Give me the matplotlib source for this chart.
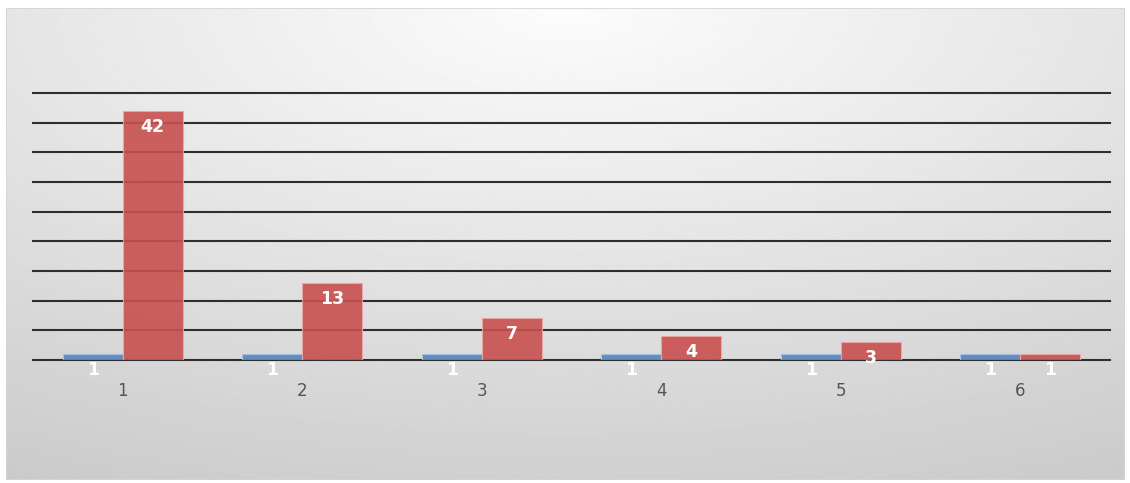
import numpy as np
import matplotlib
matplotlib.use('Agg')
import matplotlib.pyplot as plt
from matplotlib.patches import Rectangle

categories = ['1', '2', '3', '4', '5', '6']
blue_vals = [1, 1, 1, 1, 1, 1]
red_vals = [42, 13, 7, 4, 3, 1]

fig = plt.figure(figsize=(11.3, 4.83), dpi=100)
fig.patch.set_facecolor('white')

# gradient panel behind the chart
W, H = 1130, 483
x0, y0, x1, y1 = 6, 8, 1125, 480
bg = fig.add_axes([x0 / W, 1 - y1 / H, (x1 - x0) / W, (y1 - y0) / H])
gx = np.linspace(-0.5, 0.5, 400)
gy = np.linspace(0, 1, 200)
X, Y = np.meshgrid(gx, gy)
r = np.sqrt((X * 46) ** 2 + (Y * 44) ** 2)
shade = np.clip(252 - r, 195, 255) / 255
bg.imshow(shade, cmap='gray', vmin=0, vmax=1, aspect='auto',
          extent=[0, 1, 0, 1], origin='upper', interpolation='bilinear')
bg.add_patch(Rectangle((0, 0), 1, 1, transform=bg.transAxes, fill=False,
                       edgecolor='#d4d4d4', lw=1.2))
bg.set_axis_off()

ax = fig.add_axes([33 / W, 1 - 360 / H, 1077 / W, 267 / H])
ax.patch.set_alpha(0)

x = np.arange(len(categories))
w = 1 / 3
for v in range(0, 50, 5):
    ax.axhline(v, color='#2e2e2e', lw=1.5, zorder=1, clip_on=False)

bb = ax.bar(x - w / 2, blue_vals, w, color='#5a86c0', edgecolor='#a8c2e2',
            lw=0.8, alpha=0.92, zorder=2)
rb = ax.bar(x + w / 2, red_vals, w, color='#c8504e', edgecolor='#eaa8a6',
            lw=0.8, alpha=0.9, zorder=2)

for bars, vals in ((bb, blue_vals), (rb, red_vals)):
    for b, v in zip(bars, vals):
        ax.annotate(str(v), (b.get_x() + b.get_width() / 2, v),
                    xytext=(0, -16), textcoords='offset pixels',
                    ha='center', va='center', color='white',
                    fontsize=12.5, fontweight='bold', zorder=3)

ax.set_xlim(-0.5, len(categories) - 0.5)
ax.set_ylim(0, 45)
ax.set_xticks(x)
ax.set_xticklabels(categories, fontsize=12, color='#555555')
ax.tick_params(axis='x', length=0, pad=15.5)
ax.set_yticks([])
for s in ax.spines.values():
    s.set_visible(False)

fig.savefig('out.png', dpi=100)
